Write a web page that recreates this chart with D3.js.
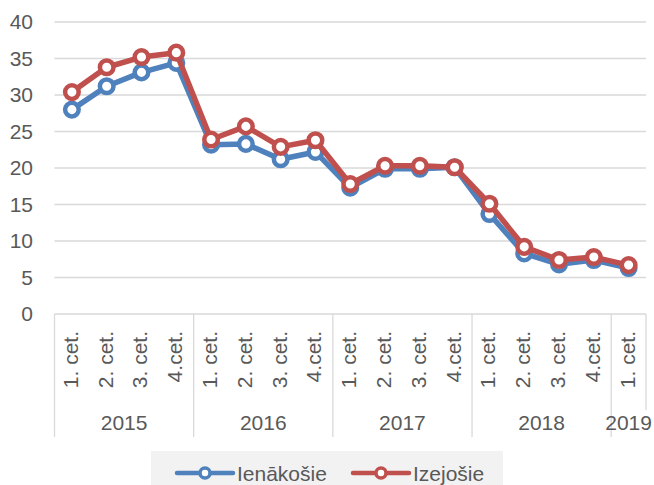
<!DOCTYPE html>
<html>
<head>
<meta charset="utf-8">
<script src="https://cdn.jsdelivr.net/npm/d3@7"></script>
<style>
  html, body { margin: 0; padding: 0; background: #ffffff; }
  svg { display: block; }
  text { font-family: "Liberation Sans", Arial, sans-serif; fill: #595959; }
</style>
</head>
<body>
<svg id="chart" width="654" height="485"></svg>
<script>
const years = ["2015", "2016", "2017", "2018", "2019"];
const quarters = ["1. cet.", "2. cet.", "3. cet.", "4.cet.",
                  "1. cet.", "2. cet.", "3. cet.", "4.cet.",
                  "1. cet.", "2. cet.", "3. cet.", "4.cet.",
                  "1. cet.", "2. cet.", "3. cet.", "4.cet.",
                  "1. cet."];
const quarterYear = [0,0,0,0, 1,1,1,1, 2,2,2,2, 3,3,3,3, 4];
const seriesNames = ["Ienākošie", "Izejošie"];
const ienakosie = [28.0, 31.2, 33.1, 34.4, 23.2, 23.3, 21.2, 22.2, 17.3, 19.9, 19.9, 20.1, 13.7, 8.3, 6.8, 7.4, 6.3];
const izejosie  = [30.4, 33.8, 35.2, 35.8, 23.9, 25.7, 22.9, 23.8, 17.8, 20.3, 20.3, 20.1, 15.1, 9.2, 7.4, 7.8, 6.7];
const yTicks = [0, 5, 10, 15, 20, 25, 30, 35, 40];
const colors = ["#4F81BD", "#C0504D"];

(function () {
const svg = d3.select("#chart");
const pLeft = 54.5, pRight = 646, pTop = 22, pBottom = 314;

const idx = d3.range(quarters.length);
const x = d3.scaleBand().domain(idx).range([pLeft, pRight]).padding(0);
const y = d3.scaleLinear().domain([0, 40]).range([pBottom, pTop]);
const cx = i => x(i) + x.bandwidth() / 2;

// gridlines
svg.append("g").selectAll("line").data(yTicks.filter(t => t > 0)).join("line")
  .attr("x1", pLeft).attr("x2", pRight)
  .attr("y1", d => y(d)).attr("y2", d => y(d))
  .attr("stroke", "#d9d9d9").attr("stroke-width", 1.3);

// y axis labels
const yAxis = d3.axisLeft(y).tickValues(yTicks).tickSize(0).tickPadding(0);
const yg = svg.append("g").attr("transform", `translate(33,0)`).call(yAxis);
yg.select(".domain").remove();
yg.selectAll("text").attr("font-size", 21).attr("fill", "#595959")
  .attr("font-family", "Liberation Sans, Arial, sans-serif");

// category axis line
svg.append("line").attr("x1", pLeft).attr("x2", pRight)
  .attr("y1", pBottom).attr("y2", pBottom)
  .attr("stroke", "#d9d9d9").attr("stroke-width", 1.3);

// group dividers
const groupStarts = [0, 4, 8, 12, 16];
const dividers = groupStarts.map(i => x(i));
svg.append("g").selectAll("line").data(dividers).join("line")
  .attr("x1", d => d).attr("x2", d => d)
  .attr("y1", pBottom).attr("y2", 437)
  .attr("stroke", "#d9d9d9").attr("stroke-width", 1.3);
svg.append("line").attr("x1", pRight).attr("x2", pRight)
  .attr("y1", pBottom).attr("y2", 410)
  .attr("stroke", "#d9d9d9").attr("stroke-width", 1.3);

// quarter labels
svg.append("g").selectAll("text").data(idx).join("text")
  .attr("transform", i => `translate(${cx(i) + 6},331) rotate(-90)`)
  .attr("text-anchor", "end")
  .attr("font-size", 21)
  .text(i => quarters[i]);

// year labels
const yearSpans = years.map((yr, k) => {
  const members = idx.filter(i => quarterYear[i] === k);
  const x0 = x(members[0]);
  const x1 = x(members[members.length - 1]) + x.bandwidth();
  return { yr, mid: (x0 + x1) / 2 };
});
svg.append("g").selectAll("text").data(yearSpans).join("text")
  .attr("x", d => d.mid).attr("y", 430)
  .attr("text-anchor", "middle")
  .attr("font-size", 21)
  .text(d => d.yr);

// series
const allSeries = [ienakosie, izejosie];
const line = d3.line().x((d, i) => cx(i)).y(d => y(d));
allSeries.forEach((vals, s) => {
  const g = svg.append("g");
  g.append("path").datum(vals)
    .attr("d", line)
    .attr("fill", "none")
    .attr("stroke", colors[s])
    .attr("stroke-width", 5.5)
    .attr("stroke-linejoin", "round");
  g.selectAll("circle").data(vals).join("circle")
    .attr("cx", (d, i) => cx(i)).attr("cy", d => y(d))
    .attr("r", 6.8)
    .attr("fill", "#ffffff")
    .attr("stroke", colors[s])
    .attr("stroke-width", 4.5);
});

// legend
const lg = svg.append("g");
lg.append("rect").attr("x", 151).attr("y", 451).attr("width", 352).attr("height", 40)
  .attr("fill", "#f2f2f2");
const legendItems = [{ x0: 177 }, { x0: 353 }];
legendItems.forEach((it, s) => {
  lg.append("line").attr("x1", it.x0).attr("x2", it.x0 + 56)
    .attr("y1", 473).attr("y2", 473)
    .attr("stroke", colors[s]).attr("stroke-width", 4.5).attr("stroke-linecap", "round");
  lg.append("circle").attr("cx", it.x0 + 28).attr("cy", 473).attr("r", 5)
    .attr("fill", "#ffffff").attr("stroke", colors[s]).attr("stroke-width", 3.5);
  lg.append("text").attr("x", it.x0 + 60).attr("y", 481)
    .attr("font-size", 21).text(seriesNames[s]);
});
})();
</script>
</body>
</html>
